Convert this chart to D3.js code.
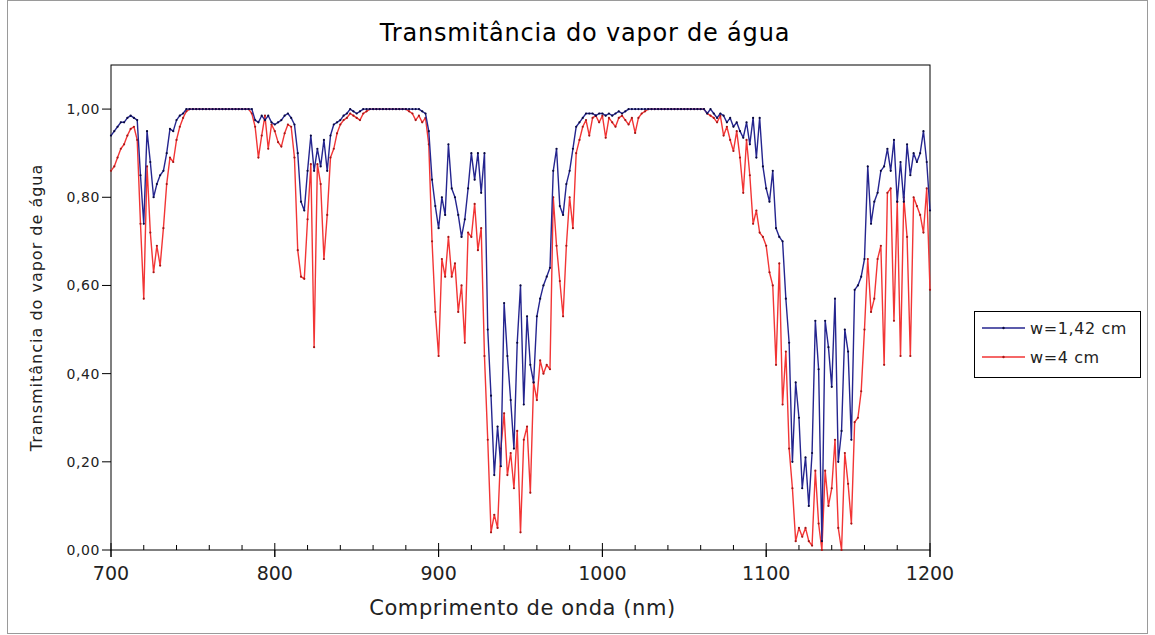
<!DOCTYPE html>
<html>
<head>
<meta charset="utf-8">
<script src="https://cdn.jsdelivr.net/npm/d3@7"></script>
<style>
  body { margin: 0; background: #fff; }
  svg { font-family: "DejaVu Sans", sans-serif; }
</style>
</head>
<body>
<div id="chart"></div>
<script>
// wavelength grid (nm), one sample every 2 nm
const wavelengths = d3.range(700, 1201, 2);

// w = 1,42 cm
const transBlue = [
  0.94,0.95,0.96,0.97,0.97,0.98,0.985,0.98,0.975,0.85,
  0.74,0.95,0.88,0.80,0.83,0.85,0.86,0.90,0.955,0.95,
  0.975,0.985,0.99,1,1,1,1,1,1,1,
  1,1,1,1,1,1,1,1,1,1,
  1,1,1,1,0.975,0.97,0.985,0.975,0.985,0.97,
  0.965,0.97,0.975,0.985,0.99,0.98,0.965,0.90,0.79,0.77,
  0.86,0.94,0.86,0.91,0.87,0.93,0.86,0.94,0.965,0.97,
  0.975,0.985,0.99,1,0.995,0.99,0.995,1,1,1,
  1,1,1,1,1,1,1,1,1,1,
  1,1,1,1,1,0.995,0.99,0.95,0.84,0.78,
  0.73,0.80,0.76,0.92,0.82,0.80,0.76,0.71,0.75,0.82,
  0.90,0.84,0.90,0.81,0.90,0.50,0.35,0.17,0.28,0.19,
  0.56,0.44,0.34,0.23,0.47,0.60,0.33,0.53,0.42,0.38,
  0.53,0.57,0.60,0.62,0.64,0.86,0.91,0.78,0.76,0.83,
  0.86,0.91,0.96,0.97,0.98,0.99,0.99,0.99,0.985,0.99,
  0.99,0.985,0.99,0.985,0.99,0.995,0.99,0.995,1,1,
  1,1,1,1,1,1,1,1,1,1,
  1,1,1,1,1,1,1,1,1,1,
  1,1,0.99,1,0.99,0.98,0.99,0.985,0.97,0.98,
  0.96,0.97,0.95,0.935,0.97,0.92,0.98,0.89,0.98,0.87,
  0.82,0.79,0.86,0.73,0.71,0.70,0.57,0.47,0.20,0.38,
  0.30,0.14,0.21,0.10,0.22,0.52,0.41,0.02,0.52,0.46,
  0.37,0.57,0.20,0.27,0.50,0.45,0.25,0.59,0.60,0.62,
  0.66,0.87,0.74,0.79,0.81,0.86,0.87,0.91,0.86,0.93,
  0.79,0.88,0.79,0.92,0.85,0.90,0.88,0.90,0.95,0.88,
  0.77
];

// w = 4 cm
const transRed = [
  0.86,0.87,0.89,0.91,0.92,0.94,0.955,0.96,0.93,0.74,
  0.57,0.87,0.72,0.63,0.69,0.645,0.73,0.83,0.89,0.88,
  0.93,0.96,0.98,0.995,1,1,1,1,1,1,
  1,1,1,1,1,1,1,1,1,1,
  1,1,1,0.99,0.96,0.89,0.94,0.985,0.91,0.965,
  0.95,0.925,0.915,0.945,0.965,0.96,0.89,0.68,0.62,0.615,
  0.75,0.875,0.46,0.875,0.83,0.66,0.76,0.89,0.91,0.945,
  0.965,0.975,0.98,0.99,0.985,0.98,0.975,0.99,0.995,1,
  1,1,1,1,1,1,1,1,1,1,
  1,0.995,0.99,0.975,0.985,0.97,0.98,0.92,0.70,0.54,
  0.44,0.66,0.62,0.71,0.62,0.65,0.54,0.60,0.47,0.72,
  0.71,0.785,0.68,0.73,0.44,0.25,0.04,0.08,0.05,0.23,
  0.31,0.17,0.22,0.14,0.27,0.04,0.25,0.28,0.13,0.38,
  0.34,0.43,0.40,0.42,0.41,0.80,0.69,0.61,0.53,0.69,
  0.80,0.73,0.90,0.93,0.96,0.975,0.94,0.98,0.985,0.97,
  0.985,0.935,0.98,0.97,0.96,0.98,0.985,0.975,0.965,0.98,
  0.946,0.98,0.99,0.995,1,1,1,1,1,1,
  1,1,1,1,1,1,1,1,1,1,
  1,1,0.99,0.985,0.98,0.97,0.985,0.94,0.96,0.93,
  0.905,0.95,0.89,0.81,0.93,0.85,0.74,0.77,0.72,0.71,
  0.69,0.63,0.60,0.42,0.65,0.33,0.45,0.23,0.14,0.02,
  0.05,0.03,0.05,0.02,0.01,0.18,0.06,0.0,0.18,0.10,
  0.14,0.25,0.05,0.0,0.22,0.15,0.06,0.29,0.30,0.36,
  0.50,0.66,0.54,0.57,0.66,0.69,0.42,0.81,0.82,0.52,
  0.79,0.44,0.80,0.71,0.44,0.80,0.78,0.76,0.72,0.82,
  0.59
];

const seriesNames = ["w=1,42 cm", "w=4 cm"];
const xTicks = [700, 800, 900, 1000, 1100, 1200];
const yTicks = [0, 0.2, 0.4, 0.6, 0.8, 1.0];

const width = 1155, height = 635;
const margin = { top: 65, left: 111, right: 225, bottom: 85 };

const svg = d3.select("#chart").append("svg")
    .attr("width", width)
    .attr("height", height);

// outer frame
svg.append("rect")
    .attr("x", 7.5).attr("y", 0.5)
    .attr("width", 1140).attr("height", 633)
    .attr("fill", "none")
    .attr("stroke", "#9a9a9a");

const x = d3.scaleLinear().domain([700, 1200]).range([margin.left, width - margin.right]);
const y = d3.scaleLinear().domain([0, 1.1]).range([height - margin.bottom, margin.top]);

// plot box
svg.append("rect")
    .attr("x", x(700)).attr("y", y(1.1))
    .attr("width", x(1200) - x(700)).attr("height", y(0) - y(1.1))
    .attr("fill", "none")
    .attr("stroke", "#000")
    .attr("stroke-width", 1);

// x axis: minor ticks inside, major ticks crossing
const xMinor = d3.range(700, 1201, 20);
svg.append("g").selectAll("line").data(xMinor).join("line")
    .attr("x1", d => x(d)).attr("x2", d => x(d))
    .attr("y1", y(0)).attr("y2", d => xTicks.includes(d) ? y(0) + 7 : y(0) - 5)
    .attr("stroke", "#000");
svg.append("g").selectAll("line").data(xTicks).join("line")
    .attr("x1", d => x(d)).attr("x2", d => x(d))
    .attr("y1", y(0) - 7).attr("y2", y(0) + 7)
    .attr("stroke", "#000");
svg.append("g").selectAll("text").data(xTicks).join("text")
    .attr("x", d => x(d)).attr("y", y(0) + 30)
    .attr("text-anchor", "middle")
    .attr("font-size", 19)
    .attr("fill", "#222")
    .text(d => d);

// y axis
const fmt = d => d3.format(".2f")(d).replace(".", ",");
svg.append("g").selectAll("line").data(yTicks).join("line")
    .attr("x1", x(700) - 9).attr("x2", x(700))
    .attr("y1", d => y(d)).attr("y2", d => y(d))
    .attr("stroke", "#000");
svg.append("g").selectAll("text").data(yTicks).join("text")
    .attr("x", x(700) - 11).attr("y", d => y(d) + 5)
    .attr("text-anchor", "end")
    .attr("font-size", 14)
    .attr("letter-spacing", 0.6)
    .attr("fill", "#222")
    .text(fmt);

// titles
svg.append("text")
    .attr("x", 585).attr("y", 41)
    .attr("text-anchor", "middle")
    .attr("font-size", 24)
    .attr("letter-spacing", 0.8)
    .text("Transmitância do vapor de água");

svg.append("text")
    .attr("x", (x(700) + x(1200)) / 2 + 2).attr("y", 615)
    .attr("text-anchor", "middle")
    .attr("font-size", 21)
    .attr("letter-spacing", 0.6)
    .attr("fill", "#222")
    .text("Comprimento de onda (nm)");

svg.append("text")
    .attr("transform", "translate(42," + ((y(0) + y(1.1)) / 2) + ") rotate(-90)")
    .attr("text-anchor", "middle")
    .attr("font-size", 16)
    .attr("letter-spacing", 1)
    .attr("fill", "#222")
    .text("Transmitância do vapor de água");

// series
const series = [
  { name: seriesNames[1], values: transRed, color: "#f23535", dot: "#a51818" },
  { name: seriesNames[0], values: transBlue, color: "#25258f", dot: "#0a0a40" }
];

const line = d3.line()
    .x((d, i) => x(wavelengths[i]))
    .y(d => y(d));

series.forEach(s => {
  const g = svg.append("g");
  g.append("path")
      .datum(s.values)
      .attr("d", line)
      .attr("fill", "none")
      .attr("stroke", s.color)
      .attr("stroke-width", 1.4)
      .attr("stroke-linejoin", "round");
  g.selectAll("circle").data(s.values).join("circle")
      .attr("cx", (d, i) => x(wavelengths[i]))
      .attr("cy", d => y(d))
      .attr("r", 1.1)
      .attr("fill", s.dot);
});

// legend
const legend = svg.append("g").attr("transform", "translate(974,311)");
legend.append("rect")
    .attr("x", 0.5).attr("y", 0.5)
    .attr("width", 166).attr("height", 66)
    .attr("fill", "#fff")
    .attr("stroke", "#000");
[series[1], series[0]].forEach((s, i) => {
  const ly = 17 + i * 29;
  legend.append("line")
      .attr("x1", 8).attr("x2", 51)
      .attr("y1", ly).attr("y2", ly)
      .attr("stroke", s.color).attr("stroke-width", 1.3);
  legend.append("circle")
      .attr("cx", 29.5).attr("cy", ly).attr("r", 1.2)
      .attr("fill", s.dot);
  legend.append("text")
      .attr("x", 56).attr("y", ly + 6)
      .attr("font-size", 16)
      .attr("letter-spacing", 0.6)
      .attr("fill", "#222")
      .text(s.name);
});
</script>
</body>
</html>
